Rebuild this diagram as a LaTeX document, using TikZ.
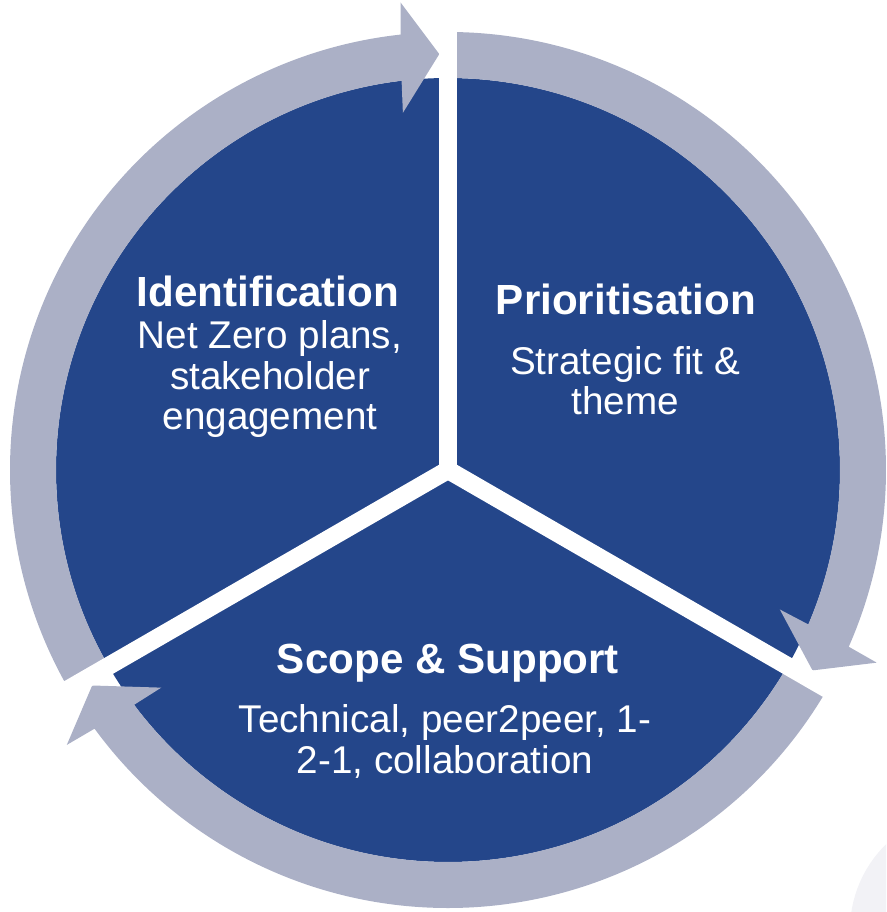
\documentclass[tikz,border=0pt]{standalone}
\usepackage{fontspec}
\setmainfont{Liberation Sans}

\definecolor{sectorblue}{RGB}{36,70,138}
\definecolor{ringgrey}{RGB}{171,176,198}
\definecolor{faintgrey}{RGB}{242,242,246}

\tikzset{
	stagetitle/.style={text=white, inner sep=0pt, anchor=base, font=\fontsize{24}{28}\selectfont\bfseries},
	stagetext/.style={text=white, inner sep=0pt, anchor=base, align=center, font=\fontsize{22}{23.3}\selectfont},
	ringarrow/.style={fill=ringgrey},
	sectorgap/.style={draw=white, line width=0.36cm}
}

\begin{document}
\begin{tikzpicture}[x=0.02cm,y=0.02cm]
	\useasboundingbox (-448,-442) rectangle (438,470);
	\coordinate (Centre) at (0,0);
	
	% faint shape in the corner
	\begin{scope}
	\clip (-448,-442) rectangle (438,470);
	\fill[faintgrey] (522,-460) circle[radius=120];
	\end{scope}
	
	\fill[sectorblue] (Centre) circle[radius=392];% the disk
	
	% the three arc arrows of the ring
	\fill[ringarrow] (210:438) arc[start angle=210, end angle=96.2, radius=438] -- (95.8:470) -- (91.2:416) -- (97.2:360) -- (96.8:392) arc[start angle=96.8, end angle=210, radius=392] -- cycle;
	\fill[ringarrow] (90:438) arc[start angle=90, end angle=-23.8, radius=438] -- (-24.2:470) -- (-28.8:416) -- (-22.8:360) -- (-23.2:392) arc[start angle=-23.2, end angle=90, radius=392] -- cycle;
	\fill[ringarrow] (-30:438) arc[start angle=-30, end angle=-143.8, radius=438] -- (-144.2:470) -- (-148.8:416) -- (-142.8:360) -- (-143.2:392) arc[start angle=-143.2, end angle=-30, radius=392] -- cycle;
	
	% white gaps between the sectors
	\draw[sectorgap] (Centre) -- (90:480);
	\draw[sectorgap] (Centre) -- (210:480);
	\draw[sectorgap] (Centre) -- (330:480);
	
	% base of a text node is the baseline of its last line
	\node[stagetitle] (IdentTitle) at (-180,163) {Identification};
	\node[stagetext] (IdentText) at (-178,40) {Net Zero plans,\\stakeholder\\engagement};
	
	\node[stagetitle] (PrioTitle) at (178,155) {Prioritisation};
	\node[stagetext] (PrioText) at (177,55) {Strategic fit \&\\theme};
	
	\node[stagetitle] (ScopeTitle) at (0,-203) {Scope \& Support};
	\node[stagetext] (ScopeText) at (-3,-303) {Technical, peer2peer, 1-\\2-1, collaboration};
\end{tikzpicture}
\end{document}
